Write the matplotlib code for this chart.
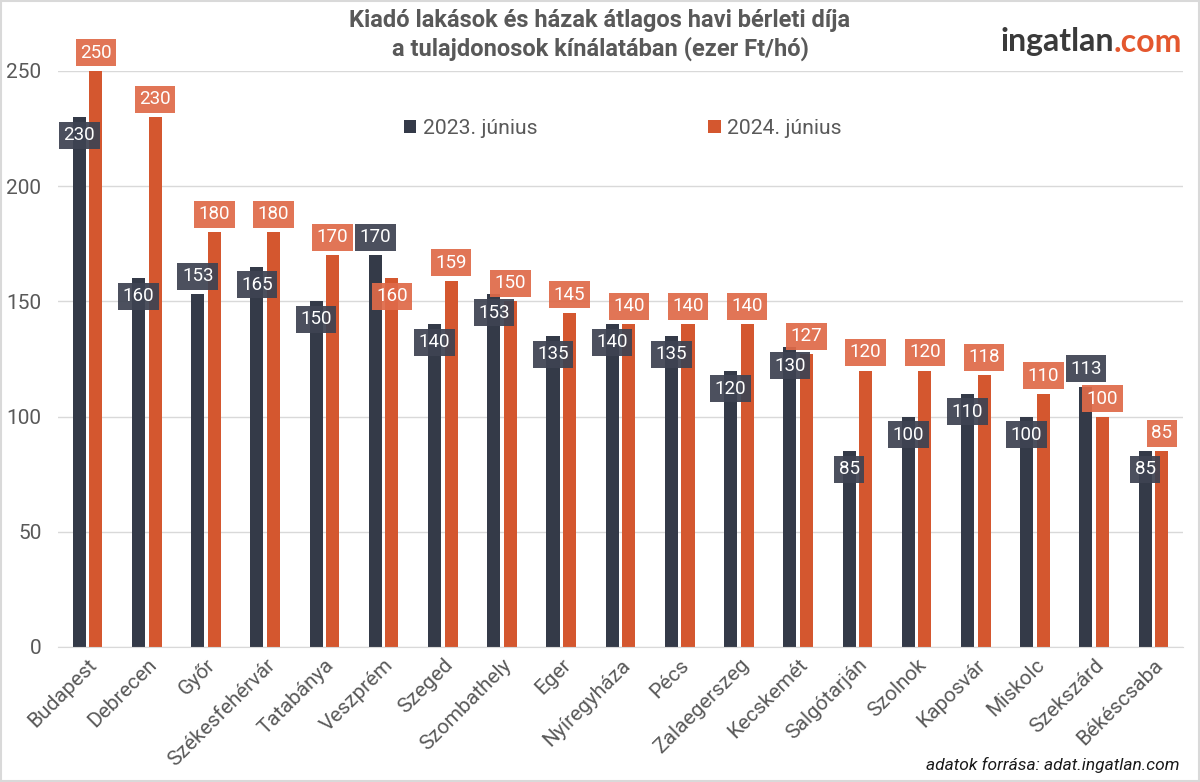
import matplotlib
matplotlib.use("Agg")
import matplotlib.pyplot as plt
import numpy as np

plt.rcParams['font.family'] = ['Roboto', 'DejaVu Sans']

# data
cities = ["Budapest", "Debrecen", "Győr", "Székesfehérvár", "Tatabánya", "Veszprém",
          "Szeged", "Szombathely", "Eger", "Nyíregyháza", "Pécs", "Zalaegerszeg",
          "Kecskemét", "Salgótarján", "Szolnok", "Kaposvár", "Miskolc", "Szekszárd",
          "Békéscsaba"]
rent_2023 = [230, 160, 153, 165, 150, 170, 140, 153, 135, 140, 135, 120, 130, 85, 100, 110, 100, 113, 85]
rent_2024 = [250, 230, 180, 180, 170, 160, 159, 150, 145, 140, 140, 140, 127, 120, 120, 118, 110, 100, 85]
series_names = ["2023. június", "2024. június"]

# label placement exceptions (Excel "best fit" style)
dark_above = {2, 5, 17}
orange_below = {5}

c_dark = "#343a48"
c_orange = "#d4572f"
c_dark_box = "#3e4352"
c_orange_box = "#df6a49"
grey = "#595959"

fig = plt.figure(figsize=(12, 7.82), dpi=100)
ax = fig.add_axes([58 / 1200, 1 - 647 / 782, 1125 / 1200, 576 / 782])

x = np.arange(len(cities))
w = 0.22
off = 0.14
ax.bar(x - off, rent_2023, w, color=c_dark, label=series_names[0], zorder=2)
ax.bar(x + off, rent_2024, w, color=c_orange, label=series_names[1], zorder=2)

for i in range(len(cities)):
    dy = 13 if i in dark_above else -13
    ax.annotate(str(rent_2023[i]), (x[i] - off, rent_2023[i]), xytext=(0, dy),
                textcoords="offset points", ha="center", va="center", color="white",
                fontsize=13.5, zorder=5, annotation_clip=False,
                bbox=dict(boxstyle="square,pad=0.24", fc=c_dark_box, ec="none", alpha=0.93))
    dy = -13 if i in orange_below else 13
    ax.annotate(str(rent_2024[i]), (x[i] + off, rent_2024[i]), xytext=(0, dy),
                textcoords="offset points", ha="center", va="center", color="white",
                fontsize=13.5, zorder=5, annotation_clip=False,
                bbox=dict(boxstyle="square,pad=0.24", fc=c_orange_box, ec="none", alpha=0.93))

ax.set_xlim(-0.5, len(cities) - 0.5)
ax.set_ylim(0, 250)
ax.set_yticks(range(0, 251, 50))
ax.grid(axis="y", color="#d9d9d9", lw=1, zorder=0)
for s in ["top", "right", "left"]:
    ax.spines[s].set_visible(False)
ax.spines["bottom"].set_color("#d9d9d9")
ax.tick_params(axis="both", length=0, colors=grey, labelsize=15)
ax.tick_params(axis="y", pad=12)
ax.tick_params(axis="x", pad=6)
ax.set_xticks(x)
ax.set_xticklabels(cities, rotation=45, ha="right", rotation_mode="anchor")

leg = ax.legend(loc="center", bbox_to_anchor=(0.502, 0.9), ncol=2, frameon=False,
                fontsize=15.2, handlelength=0.6, handleheight=0.6, handletextpad=0.3,
                columnspacing=8.1, labelcolor=grey)

fig.text(0.5, 0.988, "Kiadó lakások és házak átlagos havi bérleti díja\na tulajdonosok kínálatában (ezer Ft/hó)",
         ha="center", va="top", fontsize=17, fontweight="bold", color=grey, linespacing=1.22)

t1 = fig.text(1000 / 1200, 1 - 42 / 782, "ingatlan", ha="left", va="center", fontsize=23,
              fontweight="bold", color="#3a3a3a", family=["Lato", "DejaVu Sans"])
fig.canvas.draw()
bb = t1.get_window_extent()
fig.text(bb.x1 / 1200, 1 - 42 / 782, ".com", ha="left", va="center", fontsize=23,
         fontweight="bold", color="#e4572e", family=["Lato", "DejaVu Sans"])

fig.text(1180 / 1200, 1 - 765 / 782, "adatok forrása: adat.ingatlan.com", ha="right", va="center",
         fontsize=12.5, style="italic", color="#1a1a1a")

fig.patches.append(plt.Rectangle((0.001, 0.001), 0.998, 0.998, transform=fig.transFigure,
                                 fill=False, ec="#d9d9d9", lw=1.5))

fig.savefig("out.png", dpi=100)
